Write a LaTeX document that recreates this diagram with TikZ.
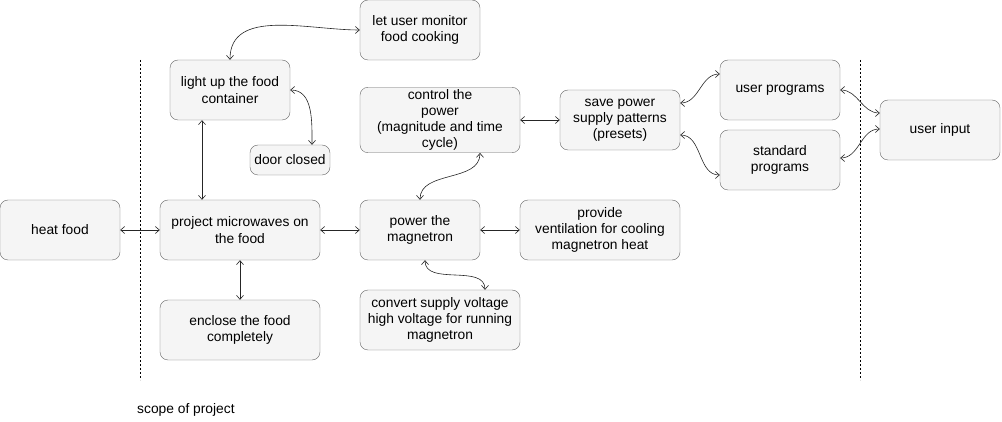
\documentclass[tikz,border=0pt]{standalone}
\usepackage{fontspec}
\setmainfont{Liberation Sans}
\usetikzlibrary{arrows.meta}

\begin{document}
\begin{tikzpicture}[x=1pt, y=-1pt, font=\fontsize{13.8}{16.2}\selectfont]
\tikzset{el/.style={draw=black!60, fill=black!4, rounded corners=8pt, minimum width=120pt, minimum height=60pt, align=center, inner sep=2pt},
link/.style={<->, >={Straight Barb[length=4pt, width=7pt]}, black!85, semithick},
scope/.style={dashed, dash pattern=on 2pt off 2pt, thin}}

\useasboundingbox (0,0) rectangle (1002,422);

% Inside the scope
\node[el] (monitor) at (420,30) {let user monitor\\food cooking};
\node[el] (light) at (230,90) {light up the food\\container};
\node[el, minimum width=80pt, minimum height=30pt] (door) at (290,160) {door closed};
\node[el, minimum width=160pt] (control) at (440,120)
{control the\\power\\(magnitude and time\\cycle)};
\node[el] (presets) at (620,120) {save power\\supply patterns\\(presets)};
\node[el] (userprog) at (780,90) {user programs};
\node[el] (stdprog) at (780,160) {standard\\programs};

\node[el, minimum width=160pt] (project) at (240,230) {project microwaves on\\the food};
\node[el] (magnetron) at (420,230) {power the\\magnetron};
\node[el, minimum width=160pt] (cooling) at (600,230)
{provide\\ventilation for cooling\\magnetron heat};
\node[el, minimum width=160pt] (convert) at (440,320)
{convert supply voltage\\high voltage for running\\magnetron};
\node[el, minimum width=160pt] (enclose) at (240,330) {enclose the food\\completely};

% Outside the scope
\node[el] (heat) at (60,230) {heat food};
\node[el] (input) at (940,130) {user input};

% Scope borders
\draw [scope] (140,60) -- (140,380);
\draw [scope] (860,60) -- (860,380);
\node[anchor=west, inner sep=0pt] (scopelbl) at (137,410) {scope of project};

% Connections
\draw[link] (monitor.west) to[out=180, in=90] (light.north);
\draw[link] ([xshift=22pt]door.north) to[out=90, in=0] (light.east);
\draw[link] ([xshift=-28pt]light.south) -- ([xshift=-38pt]project.north);
\draw[link] (heat) -- (project);
\draw[link] (project) -- (magnetron);
\draw[link] (magnetron) -- (cooling);
\draw[link] (project) -- (enclose);
\draw[link] ([xshift=40pt]control.south) to[out=-90, in=90] (magnetron.north);
\draw[link] ([xshift=5pt]magnetron.south) to[out=-90, in=90] ([xshift=45pt]convert.north);
\draw[link] (control) -- (presets);
\draw[link] ([yshift=17pt]presets.east) to[out=0, in=180] ([yshift=16pt]userprog.west);
\draw[link] ([yshift=-15pt]presets.east) to[out=0, in=180] ([yshift=-15pt]stdprog.west);
\draw[link] (userprog.east) to[out=0, in=180] ([yshift=17pt]input.west);
\draw[link] ([yshift=2pt]stdprog.east) to[out=0, in=180] ([yshift=1pt]input.west);

\end{tikzpicture}
\end{document}
